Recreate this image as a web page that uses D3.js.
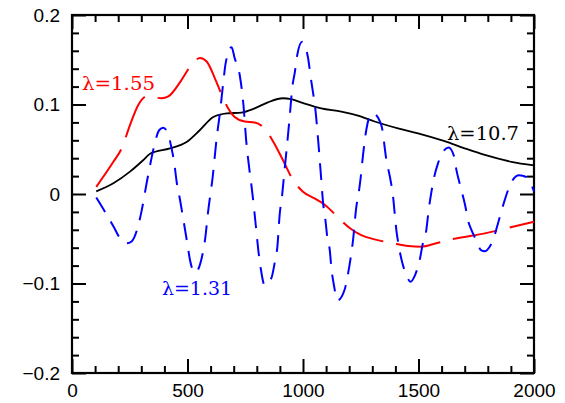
<!DOCTYPE html>
<html>
<head>
<meta charset="utf-8">
<script src="https://cdn.jsdelivr.net/npm/d3@7/dist/d3.min.js"></script>
<style>
  html, body { margin: 0; padding: 0; background: #ffffff; }
  svg { display: block; }
</style>
</head>
<body>
<svg id="chart" width="565" height="403"></svg>
<script>
// ---- data ----
const xTickValues = [0, 500, 1000, 1500, 2000];
const yTickValues = [-0.2, -0.1, 0, 0.1, 0.2];

const seriesNames = ["λ=10.7", "λ=1.55", "λ=1.31"];

const black107 = [
  [105,0.003],[179,0.012],[251,0.025],[309,0.038],[338,0.045],[424,0.051],[496,0.058],
  [554,0.0715],[612,0.086],[670,0.090],[733,0.091],[791,0.0957],[848,0.1024],[913,0.107],
  [949,0.106],[1007,0.101],[1079,0.0957],[1166,0.092],[1238,0.0875],[1310,0.081],
  [1411,0.0734],[1498,0.0678],[1613,0.059],[1700,0.051],[1787,0.0436],[1902,0.036],[2000,0.032]
];

const red155 = [
  [105,0.008],[179,0.036],[215,0.051],[251,0.077],[287,0.0995],[323,0.109],[355,0.108],
  [388,0.107],[417,0.109],[468,0.125],[511,0.142],[554,0.152],[583,0.148],[619,0.129],
  [648,0.111],[675,0.096],[704,0.086],[748,0.081],[791,0.080],[834,0.073],[870,0.059],
  [913,0.038],[957,0.0156],[1000,0.0026],[1050,-0.005],[1094,-0.012],[1159,-0.028],
  [1202,-0.038],[1252,-0.046],[1310,-0.0507],[1390,-0.055],[1455,-0.058],[1512,-0.0589],
  [1577,-0.055],[1635,-0.051],[1700,-0.048],[1787,-0.044],[1887,-0.038],[2000,-0.031]
];

const blue131 = [
  [105,-0.004],[143,-0.020],[179,-0.036],[215,-0.052],[237,-0.055],[258,-0.053],[287,-0.035],
  [302,-0.018],[323,0.012],[341,0.036],[355,0.053],[378,0.0715],[395,0.074],[413,0.069],
  [431,0.051],[443,0.034],[453,0.0137],[468,-0.007],[483,-0.030],[499,-0.055],[511,-0.074],
  [532,-0.088],[561,-0.072],[576,-0.051],[590,-0.018],[609,0.019],[626,0.062],[641,0.092],
  [655,0.125],[665,0.146],[691,0.164],[704,0.152],[726,0.133],[742,0.100],[754,0.060],
  [769,0.025],[779,0.005],[794,-0.031],[808,-0.066],[817,-0.083],[834,-0.102],[863,-0.094],
  [878,-0.076],[889,-0.059],[899,-0.023],[909,-0.003],[918,0.021],[928,0.047],[942,0.085],
  [954,0.120],[964,0.135],[975,0.155],[996,0.170],[1022,0.152],[1033,0.131],[1043,0.114],
  [1053,0.096],[1065,0.062],[1077,0.023],[1087,-0.010],[1097,-0.029],[1105,-0.048],
  [1116,-0.063],[1123,-0.083],[1134,-0.102],[1149,-0.119],[1180,-0.107],[1195,-0.089],
  [1206,-0.072],[1216,-0.053],[1231,-0.014],[1241,0.001],[1250,0.019],[1260,0.044],
  [1274,0.0715],[1293,0.089],[1303,0.090],[1339,0.077],[1361,0.038],[1380,0.014],
  [1390,-0.003],[1397,-0.022],[1404,-0.040],[1414,-0.057],[1429,-0.076],[1447,-0.090],
  [1465,-0.098],[1486,-0.090],[1505,-0.074],[1519,-0.055],[1534,-0.040],[1544,-0.018],
  [1555,0.001],[1567,0.018],[1584,0.034],[1606,0.047],[1630,0.052],[1654,0.042],
  [1664,0.027],[1678,0.012],[1693,-0.003],[1703,-0.014],[1714,-0.029],[1729,-0.040],
  [1743,-0.048],[1772,-0.063],[1787,-0.064],[1808,-0.059],[1823,-0.051],[1844,-0.033],
  [1858,-0.020],[1873,-0.007],[1890,0.006],[1909,0.016],[1935,0.021],[1967,0.019],[2000,0.003]
];

// ---- layout ----
const W = 565, H = 403;
const mLeft = 72, mRight = 534, mTop = 15, mBottom = 373;

const svg = d3.select("#chart");
svg.append("rect").attr("width", W).attr("height", H).attr("fill", "#ffffff");

const x = d3.scaleLinear().domain([0, 2000]).range([mLeft, mRight]);
const y = d3.scaleLinear().domain([-0.2, 0.2]).range([mBottom, mTop]);

const xMinor = d3.range(0, 2001, 100).filter(v => v % 500 !== 0);
const yMinor = d3.range(-10, 11, 1).filter(v => v % 5 !== 0).map(v => v * 0.02);

const yFmt = d => Math.abs(d) < 1e-9 ? "0" : d3.format(".1f")(d);

const tickFont = "'Liberation Sans', Arial, Helvetica, sans-serif";

function styleAxis(g) {
  g.select(".domain").remove();
  g.selectAll(".tick line").attr("stroke", "#000").attr("stroke-width", 2);
  g.selectAll(".tick text").attr("fill", "#000")
    .style("font-family", tickFont).style("font-size", "19px");
}

// bottom axis
svg.append("g").attr("transform", `translate(0,${mBottom})`)
  .call(d3.axisBottom(x).tickValues(xTickValues).tickSizeInner(-14).tickSizeOuter(0).tickPadding(11).tickFormat(d3.format("d")))
  .call(styleAxis);
svg.append("g").attr("transform", `translate(0,${mBottom})`)
  .call(d3.axisBottom(x).tickValues(xMinor).tickSizeInner(-7).tickSizeOuter(0).tickFormat(""))
  .call(styleAxis);
// top axis
svg.append("g").attr("transform", `translate(0,${mTop})`)
  .call(d3.axisTop(x).tickValues(xTickValues).tickSizeInner(-14).tickSizeOuter(0).tickFormat(""))
  .call(styleAxis);
svg.append("g").attr("transform", `translate(0,${mTop})`)
  .call(d3.axisTop(x).tickValues(xMinor).tickSizeInner(-7).tickSizeOuter(0).tickFormat(""))
  .call(styleAxis);
// left axis
svg.append("g").attr("transform", `translate(${mLeft},0)`)
  .call(d3.axisLeft(y).tickValues(yTickValues).tickSizeInner(-14).tickSizeOuter(0).tickPadding(12).tickFormat(yFmt))
  .call(styleAxis);
svg.append("g").attr("transform", `translate(${mLeft},0)`)
  .call(d3.axisLeft(y).tickValues(yMinor).tickSizeInner(-7).tickSizeOuter(0).tickFormat(""))
  .call(styleAxis);
// right axis
svg.append("g").attr("transform", `translate(${mRight},0)`)
  .call(d3.axisRight(y).tickValues(yTickValues).tickSizeInner(-14).tickSizeOuter(0).tickFormat(""))
  .call(styleAxis);
svg.append("g").attr("transform", `translate(${mRight},0)`)
  .call(d3.axisRight(y).tickValues(yMinor).tickSizeInner(-7).tickSizeOuter(0).tickFormat(""))
  .call(styleAxis);

// frame
svg.append("rect")
  .attr("x", mLeft).attr("y", mTop)
  .attr("width", mRight - mLeft).attr("height", mBottom - mTop)
  .attr("fill", "none").attr("stroke", "#000").attr("stroke-width", 2.2);

// curves
const line = d3.line().x(d => x(d[0])).y(d => y(d[1])).curve(d3.curveMonotoneX);

const plot = svg.append("g");
plot.append("path").datum(black107)
  .attr("d", line).attr("fill", "none").attr("stroke", "#000").attr("stroke-width", 1.8);
plot.append("path").datum(red155)
  .attr("d", line).attr("fill", "none").attr("stroke", "#ff0000").attr("stroke-width", 2)
  .attr("stroke-dasharray", "45,13");
plot.append("path").datum(blue131)
  .attr("d", line).attr("fill", "none").attr("stroke", "#0000ff").attr("stroke-width", 2)
  .attr("stroke-dasharray", "17,11");

// labels
const labFont = "'DejaVu Serif', 'Liberation Serif', serif";
const labels = [
  {text: seriesNames[1], x: 82, y: 90, w: 73, color: "#ff0000"},
  {text: seriesNames[0], x: 447, y: 140, w: 72, color: "#000000"},
  {text: seriesNames[2], x: 162, y: 295, w: 70, color: "#0000ff"}
];
svg.selectAll("text.lab").data(labels).enter().append("text")
  .attr("class", "lab")
  .attr("x", d => d.x).attr("y", d => d.y)
  .attr("textLength", d => d.w).attr("lengthAdjust", "spacingAndGlyphs")
  .attr("fill", d => d.color)
  .style("font-family", labFont).style("font-size", "18px")
  .text(d => d.text);
</script>
</body>
</html>
